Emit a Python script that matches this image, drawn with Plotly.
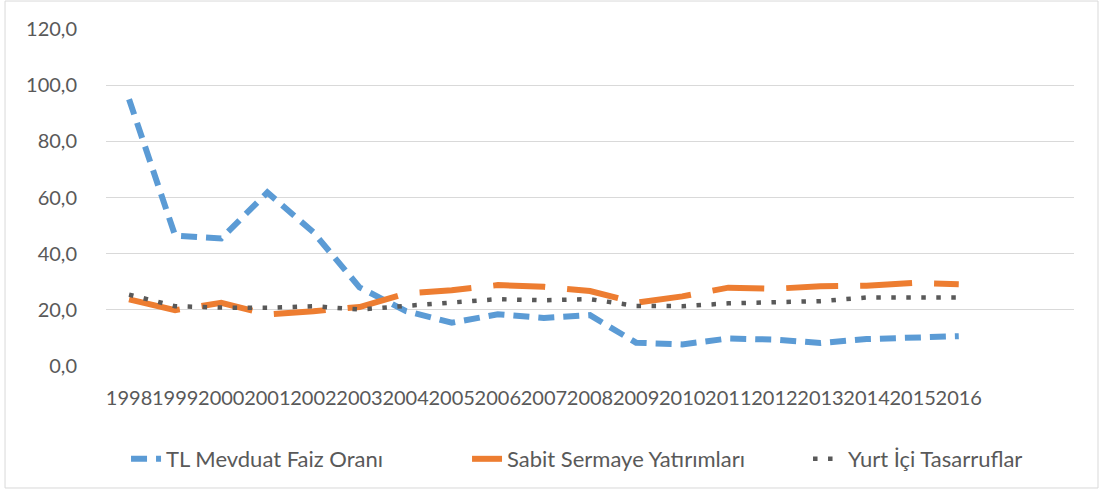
import plotly.graph_objects as go

years = list(range(1998, 2017))
tick_labels = [str(y) for y in years]
tl_mevduat = [95.0, 46.4, 45.4, 61.8, 47.6, 28.0, 19.6, 15.4, 18.4, 17.1, 18.1, 8.3, 7.7, 9.8, 9.4, 8.2, 9.6, 10.1, 10.6]
sabit_sermaye = [23.7, 19.9, 22.5, 18.4, 19.5, 21.0, 25.8, 27.0, 28.8, 28.2, 26.7, 22.5, 24.8, 27.9, 27.5, 28.4, 28.6, 29.6, 29.1]
yurt_ici = [25.4, 21.3, 20.8, 20.7, 21.3, 20.1, 21.4, 22.8, 23.8, 23.4, 23.8, 21.4, 21.3, 22.3, 22.7, 23.1, 24.4, 24.6, 24.4]
y_ticks = [0, 20, 40, 60, 80, 100, 120]

names = ["TL Mevduat Faiz Oranı", "Sabit Sermaye Yatırımları", "Yurt İçi Tasarruflar"]
FONT = "Lato"
GRAY = "#595959"

fig = go.Figure()
fig.add_trace(go.Scatter(x=years, y=tl_mevduat, name=names[0], mode="lines",
                         line=dict(color="#5B9BD5", width=6, dash="16px,9px")))
fig.add_trace(go.Scatter(x=years, y=sabit_sermaye, name=names[1], mode="lines",
                         line=dict(color="#ED7D31", width=6, dash="52px,22px")))
fig.add_trace(go.Scatter(x=years, y=yurt_ici, name=names[2], mode="lines",
                         line=dict(color="#595959", width=4.5, dash="4.5px,10.5px")))

fig.update_layout(
    width=1103, height=491,
    margin=dict(l=106, r=29, t=29, b=125, autoexpand=False),
    paper_bgcolor="white", plot_bgcolor="white",
    separators=",.",
    font=dict(family=FONT, size=20, color=GRAY),
    showlegend=True,
    legend=dict(orientation="h", x=-0.001, xanchor="left", y=-0.276, yanchor="middle",
                font=dict(family=FONT, size=22, color=GRAY), itemwidth=30,
                entrywidth=296, entrywidthmode="pixels",
                bgcolor="rgba(0,0,0,0)", borderwidth=21, bordercolor="rgba(0,0,0,0)"),
    xaxis=dict(range=[1997.5, 2018.5], tickmode="array", tickvals=years, ticktext=tick_labels,
               tickangle=0, showgrid=False, zeroline=False, showline=False, ticks="",
               ticklabelstandoff=18, tickfont=dict(family=FONT, size=20, color=GRAY)),
    yaxis=dict(range=[0, 120], tickmode="array", tickvals=y_ticks,
               tickformat=".1f", showgrid=True, gridcolor="#d9d9d9", gridwidth=1,
               zeroline=False, showline=False, ticks="", ticklabelstandoff=28,
               tickfont=dict(family=FONT, size=20, color=GRAY)),
    shapes=[dict(type="rect", xref="paper", yref="paper", x0=-0.1043, x1=1.0248,
                 y0=-0.362, y1=1.083, line=dict(color="#d9d9d9", width=1), layer="below")],
)

fig.write_html("out.html", config={"displayModeBar": False},
               post_script="document.body.style.margin='0';")
